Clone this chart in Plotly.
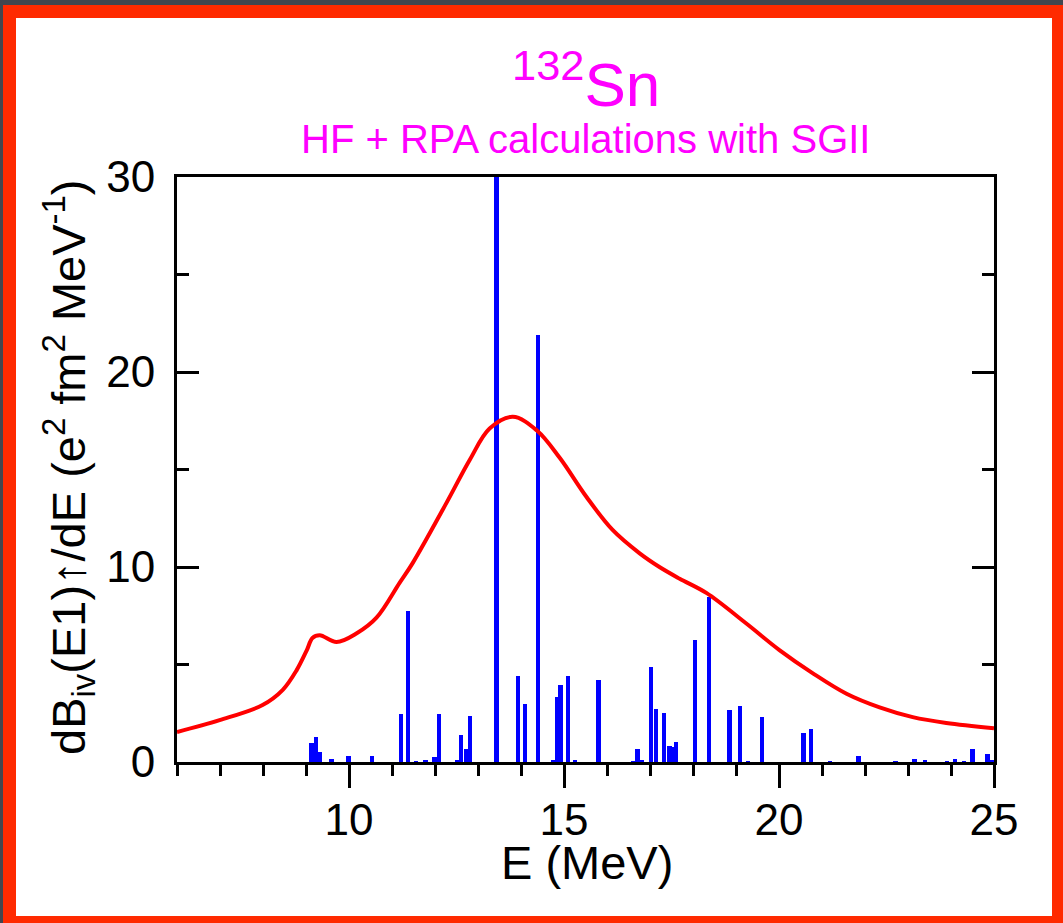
import plotly.graph_objects as go

# ---- data ----
curve_E = [6.0, 6.99, 7.99, 8.46, 8.78, 9.02, 9.15, 9.32, 9.71, 10.18, 10.64, 11.18,
           11.48, 12.27, 12.81, 13.27, 13.81, 14.37, 14.90, 15.52, 16.13, 16.76, 17.22,
           17.69, 18.31, 19.24, 20.01, 20.78, 21.57, 22.34, 23.11, 23.89, 25.0]
curve_S = [1.54, 2.15, 2.92, 3.7, 4.7, 5.74, 6.36, 6.5, 6.15, 6.6, 7.4, 9.2,
           10.2, 13.3, 15.5, 17.1, 17.7, 17.0, 15.6, 13.6, 11.9, 10.7, 10.0,
           9.4, 8.67, 7.1, 5.74, 4.56, 3.5, 2.8, 2.3, 2.0, 1.73]

bar_E = [9.13, 9.24, 9.33, 9.59, 9.99, 10.54, 11.21, 11.37, 11.55, 11.78,
         11.99, 12.09, 12.52, 12.61, 12.73, 12.81, 13.43, 13.93, 14.09, 14.39,
         14.75, 14.84, 14.92, 15.09, 15.26, 15.80, 16.60, 16.71, 16.81, 17.02,
         17.14, 17.33, 17.45, 17.52, 17.60, 18.05, 18.38, 18.85, 19.09, 19.28,
         19.60, 20.57, 20.74, 21.18, 21.85, 22.71, 23.15, 23.40, 23.90, 24.09,
         24.30, 24.50, 24.85, 24.94]
bar_S = [0.99, 1.28, 0.51, 0.14, 0.31, 0.31, 2.44, 7.74, 0.03, 0.06,
         0.25, 2.44, 0.1, 1.38, 0.67, 2.36, 38.0, 4.39, 2.97, 21.9,
         0.1, 3.35, 3.95, 4.41, 0.12, 4.22, 0.03, 0.67, 0.1, 4.85,
         2.72, 2.53, 0.8, 0.75, 1.01, 6.24, 8.48, 2.67, 2.89, 0.04,
         2.29, 1.49, 1.69, 0.04, 0.32, 0.05, 0.17, 0.1, 0.05, 0.17,
         0.04, 0.65, 0.41, 0.12]

x_ticks = [10, 15, 20, 25]
y_ticks = [0, 10, 20, 30]

title_text = "<sup>132</sup>Sn"
subtitle_text = "HF + RPA calculations with SGII"
x_title = "E (MeV)"
y_title = "dB<sub>iv</sub>(E1)↑/dE (e<sup>2</sup> fm<sup>2</sup> MeV<sup>-1</sup>)"

# ---- layout geometry ----
W, H = 1063, 923
L, R, T, B = 177, 69, 177, 161
PW, PH = W - L - R, H - T - B

def px(xp):
    return (xp - L) / PW

def py(yp):
    return (H - B - yp) / PH

FONT = "Liberation Sans, Arial, Helvetica, sans-serif"
MAGENTA = "#ff00ff"

fig = go.Figure()
fig.add_trace(go.Bar(x=bar_E, y=bar_S, width=0.1,
                     marker=dict(color="#0000ff", line=dict(width=0)),
                     showlegend=False))
fig.add_trace(go.Scatter(x=curve_E, y=curve_S, mode="lines",
                         line=dict(color="#ff0000", width=4, shape="spline", smoothing=1.0),
                         showlegend=False))

fig.update_layout(
    width=W, height=H,
    margin=dict(l=L, r=R, t=T, b=B, autoexpand=False),
    paper_bgcolor="#41464f",
    plot_bgcolor="white",
    font=dict(family=FONT, color="black"),
    bargap=0,
    shapes=[
        dict(type="rect", xref="paper", yref="paper",
             x0=px(3), x1=px(W + 5), y0=py(5), y1=py(H + 5),
             fillcolor="#ff2a00", line=dict(width=0), layer="below"),
        dict(type="rect", xref="paper", yref="paper",
             x0=px(16), x1=px(1052), y0=py(18), y1=py(916),
             fillcolor="white", line=dict(width=0), layer="below"),
    ],
    annotations=[
        dict(text=title_text, xref="paper", yref="paper", x=0.5, y=py(121),
             xanchor="center", yanchor="bottom", showarrow=False,
             font=dict(size=62, color=MAGENTA, family=FONT)),
        dict(text=subtitle_text, xref="paper", yref="paper", x=0.5, y=py(163),
             xanchor="center", yanchor="bottom", showarrow=False,
             font=dict(size=40, color=MAGENTA, family=FONT)),
        dict(text=x_title, xref="paper", yref="paper", x=px(587), y=py(862),
             xanchor="center", yanchor="middle", showarrow=False,
             font=dict(size=47, color="black", family=FONT)),
        dict(text=y_title, xref="paper", yref="paper", x=px(68), y=py(468),
             xanchor="center", yanchor="middle", showarrow=False, textangle=-90,
             font=dict(size=47, color="black", family=FONT)),
    ],
)

fig.update_xaxes(
    range=[6, 25], tickvals=x_ticks, ticktext=[str(v) for v in x_ticks],
    showgrid=False, zeroline=False,
    showline=True, linecolor="black", linewidth=3, mirror=True,
    ticks="outside", ticklen=23, tickwidth=3, tickcolor="black",
    minor=dict(dtick=1, tick0=0, ticks="outside", ticklen=11, tickwidth=3,
               tickcolor="black", showgrid=False),
    tickfont=dict(size=44, family=FONT, color="black"),
    ticklabelstandoff=-6,
)
fig.update_yaxes(
    range=[0, 30], tickvals=y_ticks, ticktext=[str(v) for v in y_ticks],
    showgrid=False, zeroline=False,
    showline=True, linecolor="black", linewidth=3, mirror="ticks",
    ticks="inside", ticklen=22, tickwidth=3, tickcolor="black",
    minor=dict(dtick=5, tick0=0, ticks="inside", ticklen=12, tickwidth=3,
               tickcolor="black", showgrid=False),
    tickfont=dict(size=44, family=FONT, color="black"),
    ticklabelstandoff=10,
)

fig.write_html(
    "out.html",
    config={"displayModeBar": False},
    post_script="document.body.style.margin='0';document.body.style.overflow='hidden';",
)
